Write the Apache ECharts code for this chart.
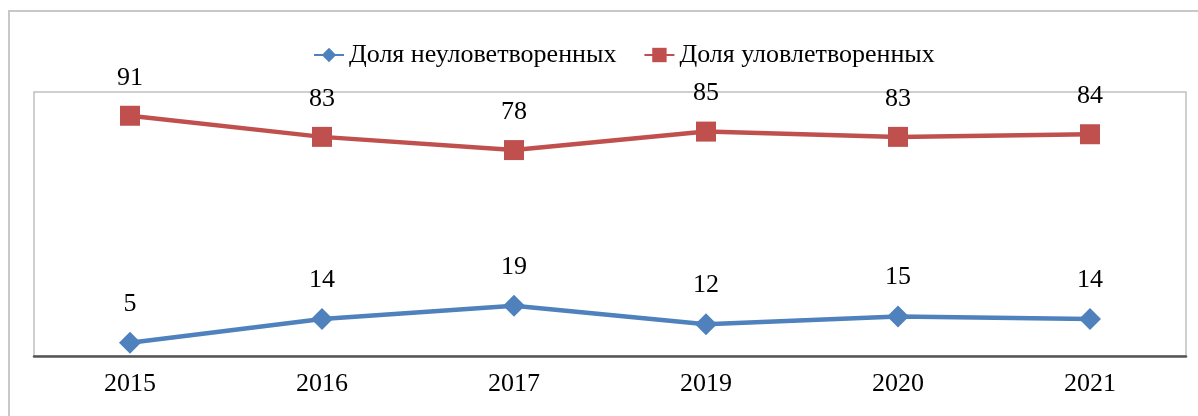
<!DOCTYPE html>
<html>
<head>
<meta charset="utf-8">
<script src="https://cdn.jsdelivr.net/npm/echarts@6/dist/echarts.min.js"></script>
<style>
  html, body { margin: 0; padding: 0; background: #fff; }
  #chart { width: 1198px; height: 416px; }
</style>
</head>
<body>
<div id="chart"></div>
<script>
  var years = ['2015', '2016', '2017', '2019', '2020', '2021'];
  var unsatisfied = [5, 14, 19, 12, 15, 14];
  var satisfied = [91, 83, 78, 85, 83, 84];

  var serif = '"Liberation Serif", "DejaVu Serif", serif';

  var myChart = echarts.init(document.getElementById('chart'));

  myChart.setOption({
    animation: false,
    backgroundColor: '#fff',
    graphic: [{
      type: 'rect',
      shape: { x: 9, y: 11, width: 1200, height: 420 },
      style: { fill: 'none', stroke: '#c8c8c8', lineWidth: 2 },
      silent: true
    }],
    legend: {
      top: 37,
      left: 308,
      itemWidth: 30,
      itemHeight: 18,
      itemGap: 27,
      textStyle: { fontFamily: serif, fontSize: 26, color: '#000' },
      data: ['Доля неуловетворенных', 'Доля уловлетворенных']
    },
    grid: {
      left: 34,
      right: 12,
      top: 92,
      bottom: 60,
      show: true,
      borderColor: '#c0c0c0',
      borderWidth: 1.5
    },
    xAxis: {
      type: 'category',
      data: years,
      axisLine: { lineStyle: { color: '#555', width: 2.5 } },
      axisTick: { show: false },
      axisLabel: { fontFamily: serif, fontSize: 26, color: '#000', margin: 15 },
      splitLine: { show: false }
    },
    yAxis: {
      type: 'value',
      min: 0,
      max: 100,
      show: false,
      splitLine: { show: false }
    },
    series: [{
      name: 'Доля неуловетворенных',
      type: 'line',
      data: unsatisfied,
      symbol: 'diamond',
      symbolSize: 22,
      itemStyle: { color: '#4F81BD' },
      lineStyle: { color: '#4F81BD', width: 4.5 },
      label: {
        show: true,
        position: 'top',
        distance: 15,
        fontFamily: serif,
        fontSize: 26,
        color: '#000'
      }
    }, {
      name: 'Доля уловлетворенных',
      type: 'line',
      data: satisfied,
      symbol: 'rect',
      symbolSize: 20,
      itemStyle: { color: '#C0504D' },
      lineStyle: { color: '#C0504D', width: 4.5 },
      label: {
        show: true,
        position: 'top',
        distance: 15,
        fontFamily: serif,
        fontSize: 26,
        color: '#000'
      }
    }]
  });
</script>
</body>
</html>
